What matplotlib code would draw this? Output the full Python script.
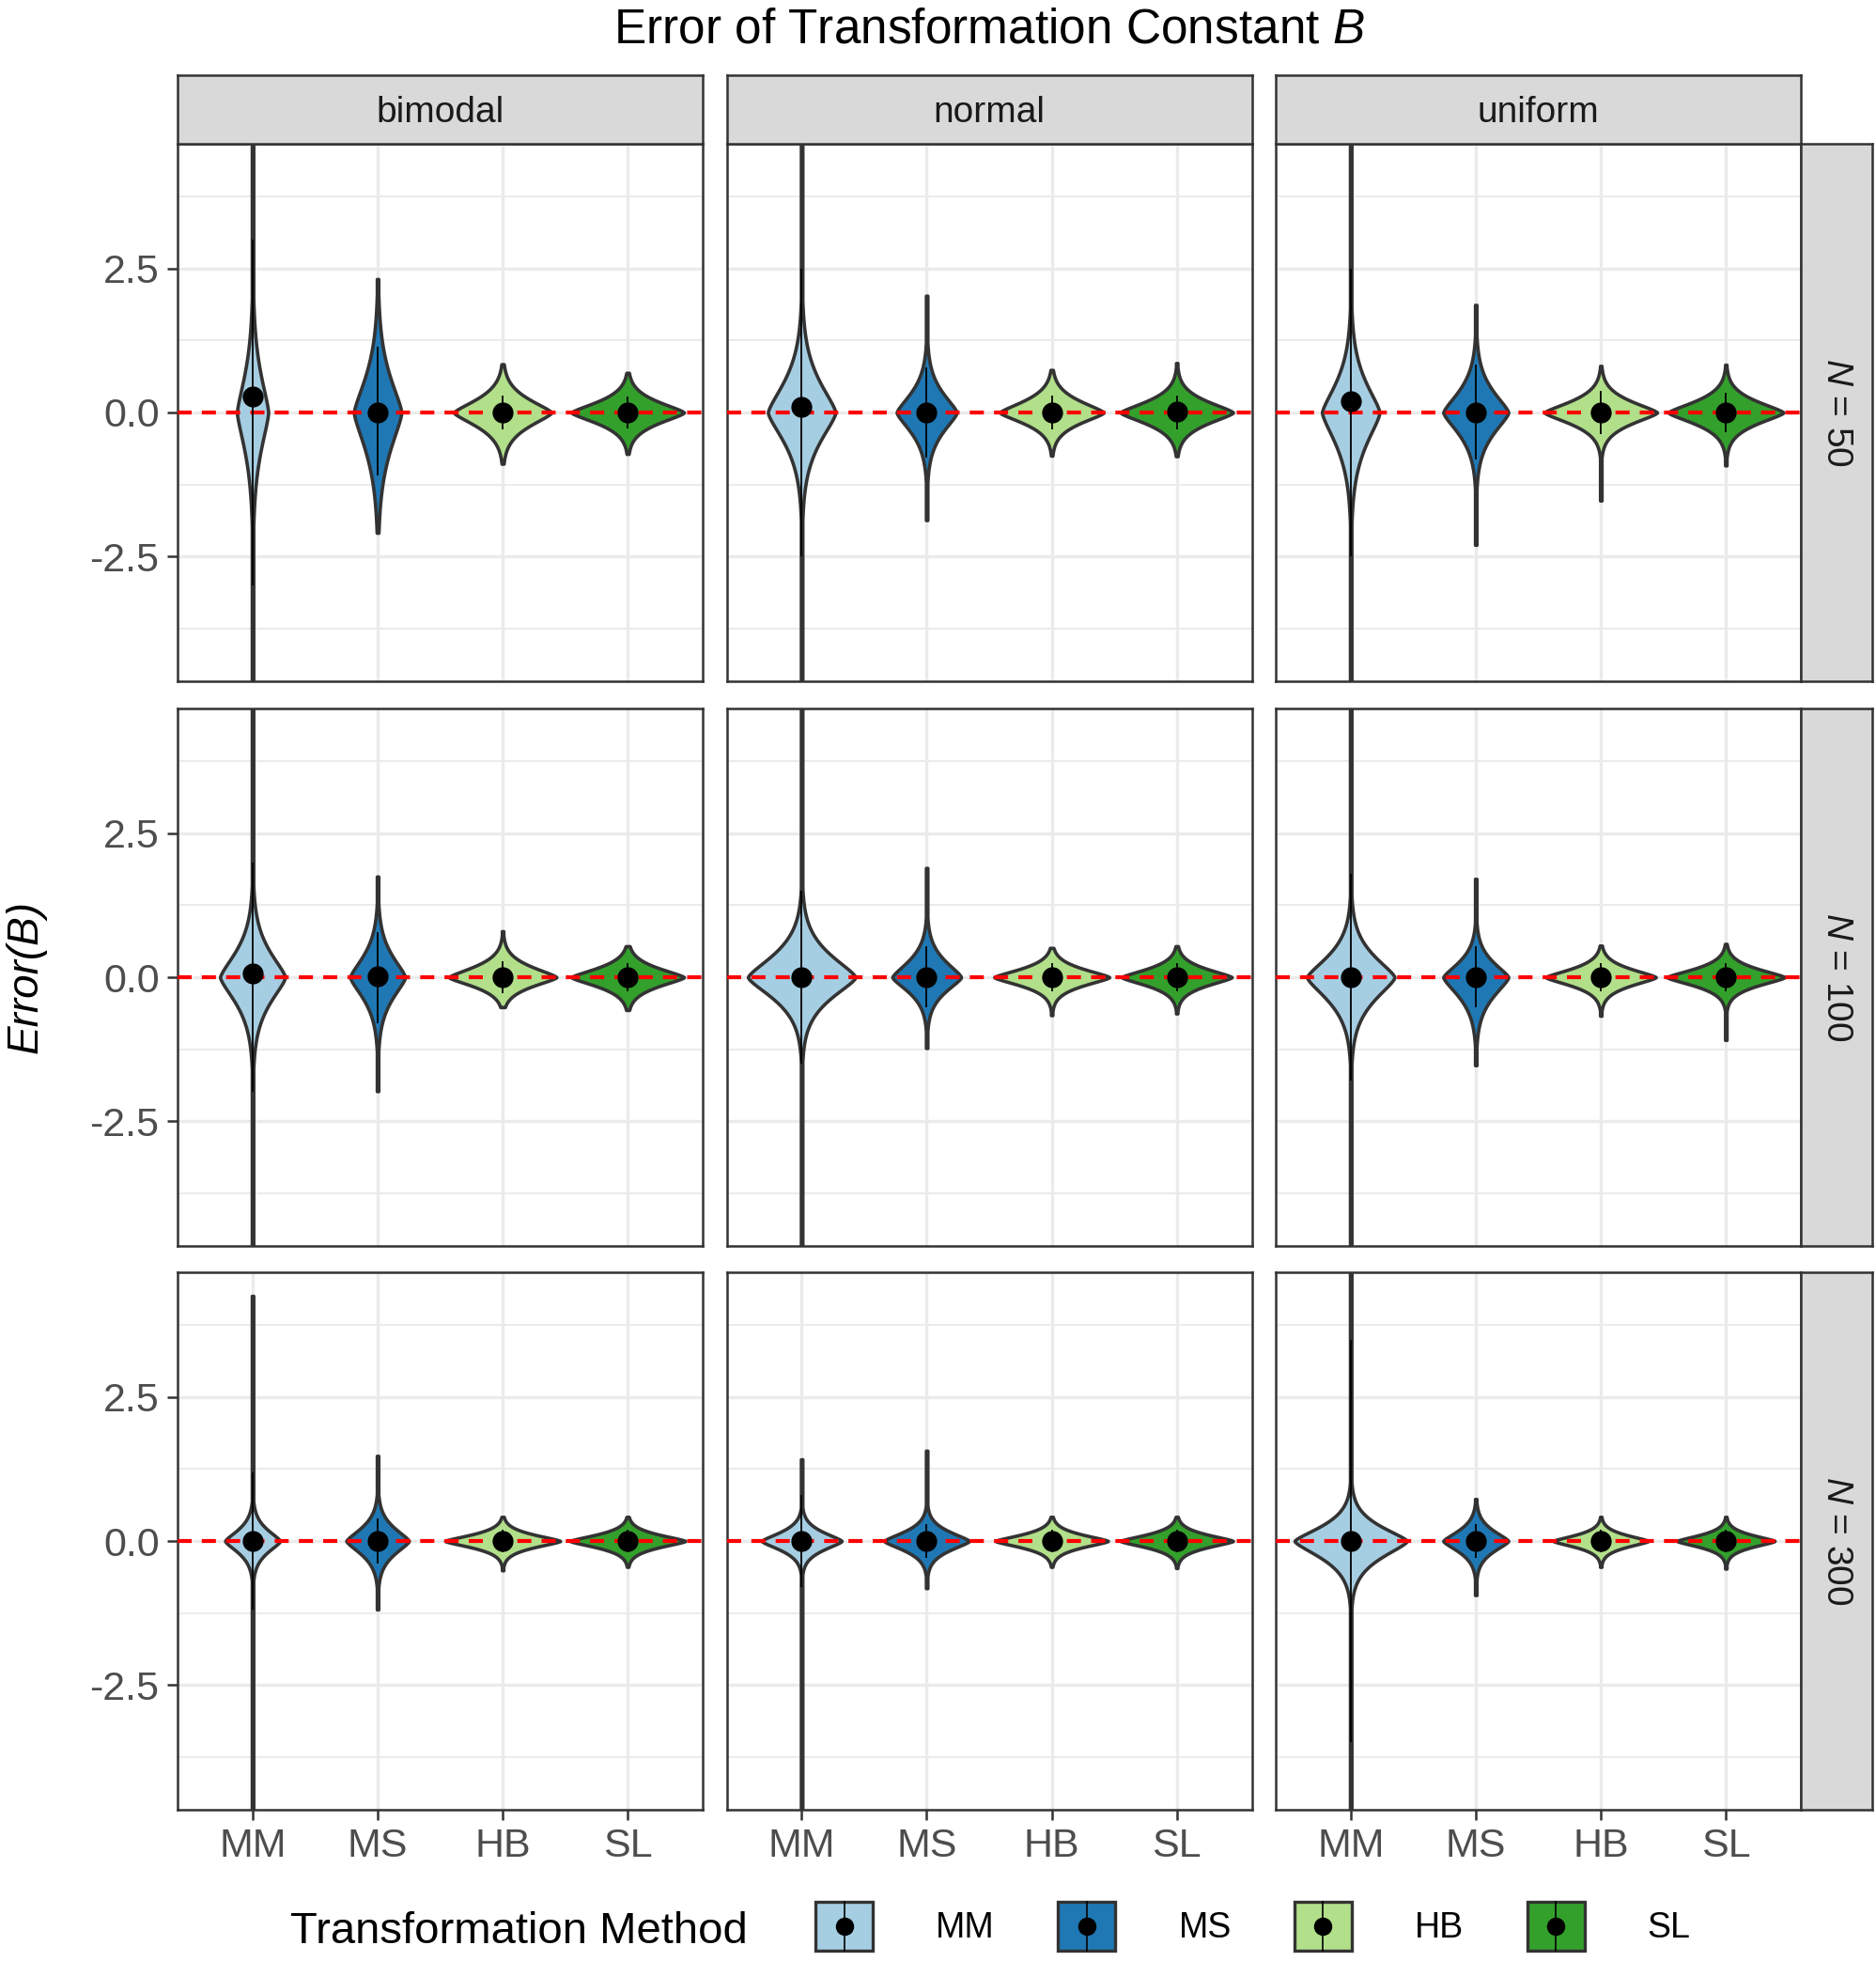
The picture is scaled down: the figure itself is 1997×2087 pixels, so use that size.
import numpy as np
import matplotlib
matplotlib.use("Agg")
import matplotlib.pyplot as plt
from matplotlib.patches import Rectangle, Patch
from matplotlib.lines import Line2D
from matplotlib.legend_handler import HandlerBase

plt.rcParams['font.family'] = ['Liberation Sans', 'DejaVu Sans']
plt.rcParams['mathtext.fontset'] = 'custom'
plt.rcParams['mathtext.rm'] = 'Liberation Sans'
plt.rcParams['mathtext.it'] = 'Liberation Sans:italic'

# ---------------- data ----------------
METHODS = ['MM', 'MS', 'HB', 'SL']
COLORS = ['#A6CEE3', '#1F78B4', '#B2DF8A', '#33A02C']
DISTS = ['bimodal', 'normal', 'uniform']
SIZES = ['50', '100', '300']
YTICKS = [-2.5, 0.0, 2.5]
YTICKLABELS = ['-2.5', '0.0', '2.5']
YMINOR = [-3.75, -1.25, 1.25, 3.75]

# indexing: [N row][distribution][method]
MEAN = [[[0.28, 0.0, 0.0, 0.0], [0.09, 0.0, 0.0, 0.02], [0.20, 0.0, 0.0, 0.0]],
        [[0.06, 0.02, 0.0, 0.0], [0.0, 0.0, 0.0, 0.0], [0.0, 0.0, 0.0, 0.0]],
        [[0.0, 0.0, 0.0, 0.0], [0.0, 0.0, 0.0, 0.0], [0.0, 0.0, 0.0, 0.0]]]

# maximum half-width of each violin (x units)
WIDTH = [[[0.125, 0.19, 0.39, 0.45], [0.27, 0.24, 0.415, 0.45], [0.23, 0.26, 0.45, 0.46]],
         [[0.26, 0.22, 0.43, 0.45], [0.43, 0.275, 0.46, 0.44], [0.35, 0.26, 0.44, 0.47]],
         [[0.22, 0.25, 0.46, 0.46], [0.32, 0.34, 0.45, 0.45], [0.45, 0.26, 0.38, 0.39]]]

# core spread above / below the peak
SPREAD_UP = [[[0.90, 0.85, 0.33, 0.27], [0.75, 0.48, 0.29, 0.28], [0.72, 0.52, 0.28, 0.28]],
             [[0.62, 0.52, 0.26, 0.23], [0.55, 0.40, 0.21, 0.21], [0.52, 0.37, 0.21, 0.21]],
             [[0.28, 0.32, 0.16, 0.16], [0.22, 0.23, 0.16, 0.16], [0.36, 0.26, 0.15, 0.15]]]
SPREAD_DN = [[[0.90, 0.90, 0.34, 0.27], [0.72, 0.48, 0.27, 0.28], [0.77, 0.52, 0.28, 0.28]],
             [[0.62, 0.52, 0.23, 0.23], [0.52, 0.36, 0.21, 0.21], [0.56, 0.47, 0.21, 0.21]],
             [[0.28, 0.32, 0.16, 0.16], [0.22, 0.23, 0.16, 0.16], [0.41, 0.26, 0.15, 0.15]]]

# data range (violin ends)
YMAX = [[[5.0, 2.32, 0.84, 0.69], [5.0, 2.03, 0.74, 0.86], [5.0, 1.87, 0.81, 0.83]],
        [[5.0, 1.75, 0.80, 0.54], [5.0, 1.90, 0.51, 0.54], [5.0, 1.71, 0.55, 0.58]],
        [[4.26, 1.48, 0.42, 0.42], [1.42, 1.57, 0.42, 0.42], [5.0, 0.73, 0.42, 0.42]]]
YMIN = [[[-5.0, -2.09, -0.89, -0.72], [-5.0, -1.87, -0.75, -0.76], [-5.0, -2.30, -1.53, -0.92]],
        [[-5.0, -1.98, -0.52, -0.57], [-5.0, -1.23, -0.66, -0.63], [-5.0, -1.53, -0.67, -1.09]],
        [[-5.0, -1.19, -0.51, -0.45], [-5.0, -0.82, -0.45, -0.47], [-5.0, -0.94, -0.45, -0.48]]]

# point-range (summary line) limits
LINE_LO = [[[-3.0, -1.09, -0.30, -0.28], [-2.5, -0.78, -0.30, -0.30], [-2.5, -0.81, -0.37, -0.35]],
           [[-2.0, -0.80, -0.28, -0.25], [-1.5, -0.52, -0.25, -0.25], [-1.8, -0.52, -0.25, -0.25]],
           [[-1.2, -0.40, -0.20, -0.20], [-0.8, -0.30, -0.20, -0.20], [-3.5, -0.30, -0.20, -0.20]]]
LINE_HI = [[[3.0, 1.15, 0.30, 0.28], [2.5, 0.78, 0.30, 0.30], [2.5, 0.83, 0.37, 0.35]],
           [[2.0, 0.79, 0.28, 0.25], [1.5, 0.54, 0.25, 0.25], [1.8, 0.54, 0.25, 0.25]],
           [[1.2, 0.40, 0.20, 0.20], [0.8, 0.30, 0.20, 0.20], [3.5, 0.30, 0.20, 0.20]]]

# ---------------- style / layout ----------------
W, H = 1997, 2087
COL_X = [189, 773.5, 1358]
PW = 559
ROW_Y = [153, 754, 1354]
PH = 572
YLIM = (-4.67, 4.67)
XLIM = (0.4, 4.6)
SHAPE_P = 1.4
TAIL = 0.006
EDGE = '#333333'
GRID = '#EBEBEB'

fig = plt.figure(figsize=(W / 100, H / 100), dpi=100)
fig.patch.set_facecolor('white')


def px_axes(x0, y0, w, h):
    return fig.add_axes([x0 / W, 1 - (y0 + h) / H, w / W, h / H])


def draw_violin(ax, xpos, w, su, sd, lo, hi, color):
    y = np.linspace(max(lo, -5.5), min(hi, 5.5), 900)
    s = np.where(y > 0, su, sd)
    hw = w * np.exp(-(np.abs(y) / s) ** SHAPE_P)
    hw = np.maximum(hw, TAIL)
    ax.fill_betweenx(y, xpos - hw, xpos + hw, facecolor=color,
                     edgecolor=EDGE, linewidth=2.6, zorder=3)


xpos = np.arange(1, len(METHODS) + 1)

for r in range(3):
    for c in range(3):
        ax = px_axes(COL_X[c], ROW_Y[r], PW, PH)
        ax.set_xlim(*XLIM)
        ax.set_ylim(*YLIM)
        for yv in YMINOR:
            ax.axhline(yv, color=GRID, lw=1.4, zorder=0)
        for yv in YTICKS:
            ax.axhline(yv, color=GRID, lw=2.4, zorder=0)
        for xv in xpos:
            ax.axvline(xv, color=GRID, lw=2.4, zorder=0)
        for m in range(4):
            draw_violin(ax, xpos[m], WIDTH[r][c][m], SPREAD_UP[r][c][m],
                        SPREAD_DN[r][c][m], YMIN[r][c][m], YMAX[r][c][m], COLORS[m])
        ax.axhline(0, color='#FF0000', lw=3.0, ls=(0, (3.6, 2.6)), zorder=4)
        for m in range(4):
            ax.plot([xpos[m], xpos[m]], [LINE_LO[r][c][m], LINE_HI[r][c][m]],
                    color='black', lw=1.3, zorder=5, solid_capstyle='butt')
            ax.plot([xpos[m]], [MEAN[r][c][m]], 'o', color='black', ms=15,
                    zorder=6)
        for sp in ax.spines.values():
            sp.set_color(EDGE)
            sp.set_linewidth(1.8)
        ax.tick_params(length=8, width=1.8, color=EDGE, labelsize=31,
                       labelcolor='#4D4D4D', pad=6)
        if r == 2:
            ax.set_xticks(xpos)
            ax.set_xticklabels(METHODS)
        else:
            ax.set_xticks([])
        if c == 0:
            ax.set_yticks(YTICKS)
            ax.set_yticklabels(YTICKLABELS)
        else:
            ax.set_yticks([])

# top strips
for c in range(3):
    sa = px_axes(COL_X[c], 80, PW, 73)
    sa.set_facecolor('#D9D9D9')
    sa.set_xticks([]); sa.set_yticks([])
    for sp in sa.spines.values():
        sp.set_color(EDGE); sp.set_linewidth(1.8)
    sa.text(0.5, 0.45, DISTS[c], ha='center', va='center', fontsize=28,
            color='#1A1A1A', transform=sa.transAxes)

# right strips
for r in range(3):
    sa = px_axes(1917, ROW_Y[r], 76, PH)
    sa.set_facecolor('#D9D9D9')
    sa.set_xticks([]); sa.set_yticks([])
    for sp in sa.spines.values():
        sp.set_color(EDGE); sp.set_linewidth(1.8)
    sa.text(0.5, 0.5, '$N$ = ' + SIZES[r], ha='center', va='center',
            fontsize=28, color='#1A1A1A', rotation=270, transform=sa.transAxes)

# title and axis label
fig.text(1053 / W, 1 - 45 / H, 'Error of Transformation Constant $B$',
         ha='center', va='baseline', fontsize=37, color='black')
fig.text(28 / W, 1 - 1040 / H, 'Error(B)', ha='center', va='center',
         rotation=90, fontsize=33, fontstyle='italic', color='black')

# legend
class ViolinKey(HandlerBase):
    def create_artists(self, legend, orig_handle, xdescent, ydescent,
                       width, height, fontsize, trans):
        rect = Rectangle((-xdescent, -ydescent), width, height,
                         facecolor=orig_handle.get_facecolor(), edgecolor=EDGE,
                         linewidth=2.4, transform=trans)
        ln = Line2D([width / 2 - xdescent] * 2, [-ydescent, height - ydescent],
                    color='black', lw=1.2, transform=trans)
        dot = Line2D([width / 2 - xdescent], [height / 2 - ydescent], marker='o',
                     color='black', ms=13, transform=trans)
        return [rect, ln, dot]


handles = [Patch(facecolor=col) for col in COLORS]
leg = fig.legend(handles=handles, labels=METHODS, ncol=4, loc='center left',
                 bbox_to_anchor=(868 / W, 1 - 2050 / H), frameon=False,
                 fontsize=27, handlelength=1.63, handleheight=1.76,
                 handletextpad=1.79, columnspacing=1.79, borderpad=0,
                 borderaxespad=0, handler_map={Patch: ViolinKey()})
fig.text(309 / W, 1 - 2068 / H, 'Transformation Method', ha='left',
         va='baseline', fontsize=34, color='black')

fig.savefig('out.png', dpi=100, facecolor='white')
